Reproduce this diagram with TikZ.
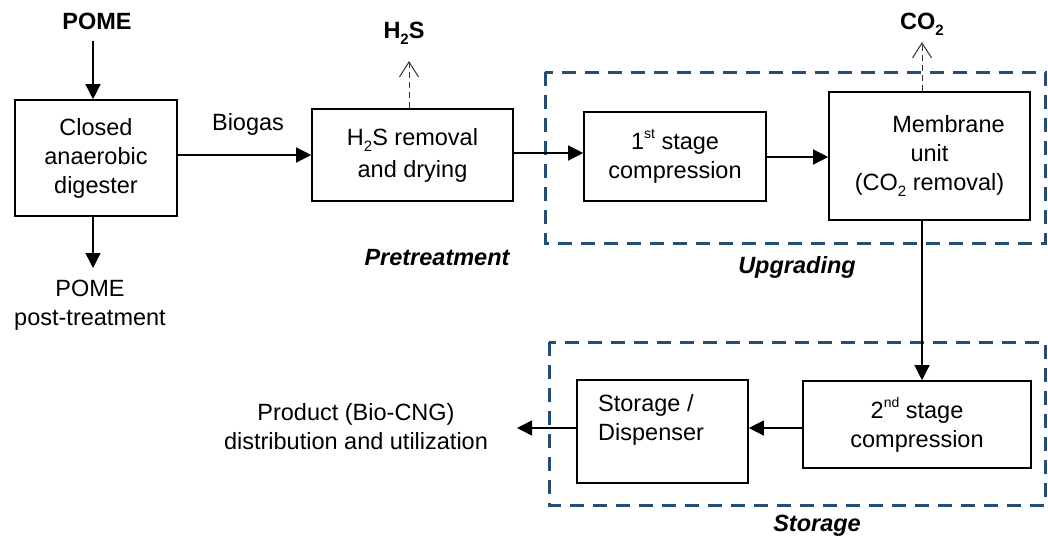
\documentclass[tikz,border=0pt]{standalone}
\usepackage{fontspec}
\setmainfont{Liberation Sans}
\usetikzlibrary{arrows.meta}
\definecolor{zoneblue}{RGB}{34,78,120}
% lowered subscript and raised superscript, as in the chemical names and ordinals
\newcommand\dsub[1]{\raisebox{-6pt}{\fontsize{15}{15}\selectfont #1}}
\newcommand\dsup[1]{\raisebox{11pt}{\fontsize{14}{14}\selectfont #1}}
\begin{document}
\begin{tikzpicture}[x=1pt,y=-1pt,
  txt/.style={font=\fontsize{23.5}{29}\selectfont, inner sep=0pt, align=center},
  lbl/.style={txt, font=\fontsize{23.5}{29}\selectfont\bfseries},
  zlbl/.style={txt, font=\fontsize{23.5}{29}\selectfont\bfseries\itshape},
  box/.style={txt, draw, line width=1.6pt, inner sep=0pt},
  arr/.style={line width=1.3pt, -{Triangle[width=15pt,length=15pt]}},
  darr/.style={line width=1pt, black!80, dash pattern=on 6pt off 4pt,
               -{Straight Barb[width=19pt,length=15pt,line width=1pt]}},
  zone/.style={draw=zoneblue, line width=3pt, dash pattern=on 14pt off 9pt}]
\useasboundingbox (0,0) rectangle (1048,539);

% zones
\draw[zone] (545,72) rectangle (1045,243);
\draw[zone] (549,342) rectangle (1045,505);

% process units
\node[box, minimum width=162pt, minimum height=116pt] (dig) at (96,158)
  {Closed\\anaerobic\\digester};
\node[box, minimum width=201pt, minimum height=92pt] (h2s) at (412.5,155)
  {H\dsub{2}S removal\\[3pt]and drying};
\node[box, minimum width=182pt, minimum height=89pt] (st1) at (675,156.5)
  {1\dsup{st} stage\\compression};
\node[box, minimum width=201pt, minimum height=128pt] (mem) at (929.5,156)
  {\hspace*{38pt}Membrane\\unit\\(CO\dsub{2} removal)};
\node[box, minimum width=228pt, minimum height=87pt] (st2) at (917,424.5)
  {2\dsup{nd} stage\\compression};
\node[box, minimum width=171pt, minimum height=103pt] (sto) at (662.5,431.5) {};
\node[txt, align=left, anchor=west] (stotxt) at (598,420) {Storage /\\Dispenser};

% streams and labels
\node[lbl] (pome) at (97,21) {POME};
\node[txt] (post) at (90,305.5) {POME\\post-treatment};
\node[txt] (biogas) at (248,124) {Biogas};
\node[lbl] (h2sgas) at (404,33) {H\dsub{2}S};
\node[lbl] (co2gas) at (922,24) {CO\dsub{2}};
\node[txt] (prod) at (356,427) {Product (Bio-CNG)\\distribution and utilization};
\node[zlbl] at (437,258) {Pretreatment};
\node[zlbl] at (797,267) {Upgrading};
\node[zlbl] at (817,526) {Storage};

\coordinate (pometop) at (93,41);
\coordinate (posttip) at (93,268);
\coordinate (h2stip) at (409,61);
\coordinate (co2tip) at (922,42);
\coordinate (prodtip) at (517,428);

% connectors
\draw[arr] (pometop) -- (dig.north -| pometop);
\draw[arr] (dig.south -| posttip) -- (posttip);
\draw[arr] (dig.east |- 0,155) -- (h2s.west |- 0,155);
\draw[arr] (h2s.east |- 0,153) -- (st1.west |- 0,153);
\draw[arr] (st1.east |- 0,157) -- (mem.west |- 0,157);
\draw[arr] (mem.south -| 922,0) -- (st2.north -| 922,0);
\draw[arr] (st2.west |- 0,428) -- (sto.east |- 0,428);
\draw[arr] (sto.west |- 0,428) -- (prodtip);
\draw[darr] (h2s.north -| h2stip) -- (h2stip);
\draw[darr] (mem.north -| co2tip) -- (co2tip);
\end{tikzpicture}
\end{document}
